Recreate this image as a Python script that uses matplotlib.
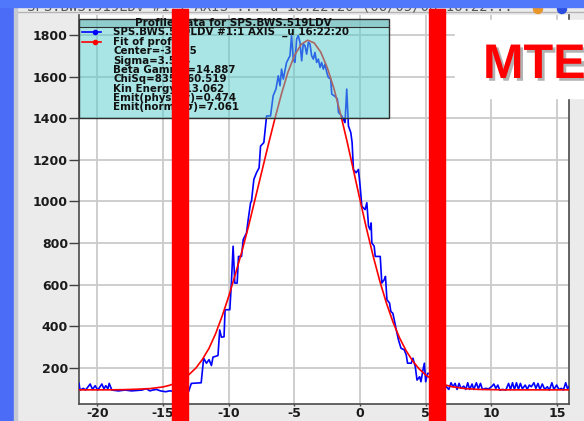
import matplotlib
matplotlib.use('Agg')
import matplotlib.pyplot as plt
import matplotlib.patheffects as pe
from matplotlib.patches import Rectangle, Ellipse
from matplotlib.lines import Line2D

prof_x = [-21.4, -21.32, -21.07, -20.9, -20.55, -20.37, -20.17, -19.97, -19.66, -19.5,
          -19.36, -19.2, -19.1, -18.9, -18.4, -17.9, -17.4, -16.6, -16.3, -16.0,
          -15.8, -15.5, -15.2, -14.8, -14.5, -14.0, -13.5, -13.05, -12.85, -12.1,
          -11.91, -11.7, -11.5, -11.32, -11.2, -10.82, -10.69, -10.56, -10.36, -10.28,
          -9.92, -9.8, -9.67, -9.54, -9.36, -9.26, -9.03, -8.9, -8.65, -8.52, -8.34,
          -8.27, -8.09, -7.89, -7.69, -7.58, -7.33, -7.12, -6.82, -6.62, -6.41,
          -6.23, -6.1, -5.98, -5.85, -5.6, -5.34, -5.22, -5.09, -4.96, -4.83,
          -4.71, -4.58, -4.45, -4.33, -4.2, -4.07, -3.94, -3.82, -3.69, -3.56,
          -3.44, -3.31, -3.18, -3.05, -2.93, -2.8, -2.67, -2.54, -2.42, -2.24,
          -2.16, -1.98, -1.83, -1.73, -1.65, -1.4, -1.27, -1.15, -1.02, -0.89,
          -0.71, -0.61, -0.51, -0.31, -0.13, 0.0, 0.13, 0.38, 0.51, 0.64,
          0.76, 0.84, 0.89, 1.07, 1.15, 1.53, 1.65, 1.83, 1.93, 2.04,
          2.24, 2.34, 2.49, 2.6, 2.75, 2.92, 3.11, 3.36, 3.51, 3.61,
          3.89, 4.02, 4.2, 4.33, 4.53, 4.63, 4.78, 4.89, 4.99, 5.14,
          5.27, 5.6, 6.0, 6.3,
          6.56, 6.75, 6.92, 7.07, 7.23, 7.38, 7.53, 7.68, 7.89, 8.04,
          8.19, 8.34, 8.52, 8.65, 8.85, 9.0, 9.16, 9.31, 9.54, 9.8,
          10.05, 10.18, 10.33, 10.48, 10.63, 10.84, 11.09, 11.3, 11.45, 11.6,
          11.75, 11.9, 12.05, 12.2, 12.35, 12.57, 12.72, 12.88, 13.03, 13.23,
          13.38, 13.54, 13.69, 13.87, 14.05, 14.25, 14.4, 14.6, 14.75, 14.96,
          15.13, 15.32, 15.47, 15.65, 15.78, 15.9]
prof_y = [126, 94, 102, 94, 123, 97, 115, 94, 123, 100,
          115, 100, 126, 94, 90, 94, 90, 94, 101, 90,
          94, 97, 90, 86, 90, 88, 90, 88, 126, 129,
          247, 223, 240, 212, 252, 260, 383, 348, 350, 480,
          480, 608, 785, 608, 608, 736, 736, 817, 849, 913, 994,
          1001, 1106, 1138, 1162, 1266, 1283, 1411, 1411, 1508, 1540,
          1604, 1556, 1636, 1588, 1668, 1700, 1797, 1684, 1668, 1781,
          1797, 1765, 1676, 1757, 1749, 1708, 1765, 1757, 1700, 1684,
          1716, 1668, 1684, 1644, 1668, 1636, 1660, 1620, 1596, 1588,
          1516, 1508, 1500, 1492, 1428, 1411, 1395, 1379, 1540, 1363,
          1331, 1283, 1154, 1138, 1154, 1074, 977, 961, 994, 881,
          865, 897, 801, 785, 736, 736, 608, 624, 640, 528,
          512, 471, 463, 431, 383, 335, 295, 287, 263, 223,
          223, 247, 206, 142, 158, 134, 190, 223, 134, 174,
          174, 125, 118, 112,
          110, 97, 129, 110, 126, 97, 126, 102, 113, 97,
          129, 97, 123, 97, 129, 100, 126, 97, 102, 100,
          113, 123, 102, 118, 94, 97, 94, 126, 97, 129,
          97, 129, 97, 126, 100, 118, 97, 118, 110, 129,
          102, 126, 97, 123, 97, 110, 94, 129, 97, 118,
          97, 102, 94, 129, 102, 110]

# gaussian fit curve as drawn
fit_x = [-21.4, -20, -19, -18, -17, -16, -15, -14.5, -14, -13.5, -13, -12.5, -12,
         -11.5, -11, -10.5, -10, -9.5, -9, -8.5, -8, -7.5, -7, -6.5, -6, -5.5,
         -5, -4.5, -4, -3.5, -3, -2.5, -2, -1.5, -1, -0.5, 0, 0.5, 1, 1.5, 2,
         2.5, 3, 3.5, 4, 4.5, 5, 5.5, 6, 6.5, 7, 8, 9, 10, 11, 12, 13, 14, 15, 15.9]
fit_y = [95, 95, 95, 96, 98, 101, 109, 117, 128, 146, 170, 200, 242,
         295, 365, 450, 545, 650, 760, 880, 1010, 1140, 1270, 1395, 1514, 1620,
         1701, 1754, 1775, 1762, 1718, 1643, 1544, 1423, 1290, 1148, 1005, 866, 736, 617, 512,
         421, 345, 283, 234, 195, 166, 145, 129, 118, 110, 101, 97, 96, 95, 95, 95, 95, 95, 95]

x_ticks = [-20, -15, -10, -5, 0, 5, 10, 15]
y_ticks = [200, 400, 600, 800, 1000, 1200, 1400, 1600, 1800]

series_label = "SPS.BWS.519LDV #1:1 AXIS  _u 16:22:20"
fit_label = "Fit of profile"
info_lines = ["Center=-3.935", "Sigma=3.554", "Beta Gamma=14.887",
              "ChiSq=835,960.519", "Kin Energy=13.062",
              "Emit(phys 1\u03c3)=0.474", "Emit(norm 1\u03c3)=7.061"]
box_title = "Profile Data for SPS.BWS.519LDV"
window_title = "SPS.BWS.519LDV #1:1 AXIS ... u 16:22:20 (06/05/08 16:22..."

W, H = 584, 421


def fx(px):
    return px / W


def fy(py):
    return 1 - py / H


fig = plt.figure(figsize=(5.84, 4.21), dpi=100, facecolor='#ebebeb')

##########################################################
## plot area
##########################################################
ax = fig.add_axes([fx(79), fy(404), (569 - 79) / W, (404 - 15) / H])
ax.set_facecolor('white')
ax.plot(prof_x, prof_y, color='#0000ff', lw=1.2, zorder=3)
ax.plot(fit_x, fit_y, color='#ff0000', lw=1.2, zorder=4)
ax.set_xlim(-21.4, 15.9)
ax.set_ylim(27, 1896)
ax.set_xticks(x_ticks)
ax.set_yticks(y_ticks)
ax.set_xticklabels([str(t) for t in x_ticks])
ax.grid(True, color='#cacaca', lw=1.3)
ax.set_axisbelow(True)
for s in ['left', 'bottom', 'right']:
    ax.spines[s].set_color('#4a4a4a')
    ax.spines[s].set_linewidth(1.2)
ax.spines['top'].set_visible(False)
ax.tick_params(axis='y', direction='out', length=7, width=1, color='#404040', pad=1)
ax.tick_params(axis='x', direction='out', length=1.5, width=1, color='#404040', pad=0.5)
for lab in ax.get_xticklabels() + ax.get_yticklabels():
    lab.set_fontsize(9)
    lab.set_fontweight('bold')
    lab.set_color('#1a1a1a')

##########################################################
## window frame
##########################################################
fig.add_artist(Rectangle((0, 0), fx(14), 1, transform=fig.transFigure,
                         color='#4b6cf6', zorder=5))
fig.add_artist(Rectangle((fx(14), 0), fx(3), 1, transform=fig.transFigure,
                         color='#c4c9d3', zorder=5))
fig.add_artist(Line2D([fx(17), 1], [fy(12), fy(12)], transform=fig.transFigure,
                      color='#b4b4b4', lw=1, zorder=2))
fig.text(fx(27), fy(11), window_title, fontsize=10, family='DejaVu Sans Mono',
         color='#555555', va='baseline', zorder=4)
fig.add_artist(Ellipse((fx(538), fy(9)), fx(9), 9 / H, transform=fig.transFigure,
                       color='#e8962c', zorder=4))
fig.add_artist(Ellipse((fx(562), fy(9)), fx(9), 9 / H, transform=fig.transFigure,
                       color='#2c4fe0', zorder=4))
fig.add_artist(Rectangle((0, fy(7)), 1, 7 / H, transform=fig.transFigure,
                         color='#5078fb', zorder=6))

##########################################################
## legend / fit results box
##########################################################
fig.add_artist(Rectangle((fx(79), fy(118)), fx(389 - 79), (118 - 19) / H,
                         transform=fig.transFigure, facecolor='#55cccc',
                         alpha=0.5, edgecolor='none', zorder=2))
fig.add_artist(Rectangle((fx(79), fy(27)), fx(389 - 79), 8 / H,
                         transform=fig.transFigure, facecolor='#7fbdbd',
                         alpha=0.6, edgecolor='none', zorder=2))
fig.add_artist(Rectangle((fx(79), fy(118)), fx(389 - 79), (118 - 19) / H,
                         transform=fig.transFigure, facecolor='none',
                         edgecolor='#303030', lw=1, zorder=3))
fig.add_artist(Line2D([fx(79), fx(389)], [fy(27), fy(27)], transform=fig.transFigure,
                      color='#303030', lw=0.8, zorder=3))
fig.text(fx(233), fy(23), box_title, fontsize=7.5, fontweight='bold',
         ha='center', va='center', color='#111111', zorder=4)

for py, col, lab in [(32.3, '#0000ff', series_label), (42.3, '#ff0000', fit_label)]:
    fig.add_artist(Line2D([fx(82), fx(101)], [fy(py), fy(py)], transform=fig.transFigure,
                          color=col, lw=1.2, zorder=4))
    fig.add_artist(Line2D([fx(95)], [fy(py)], transform=fig.transFigure, color=col,
                          marker='o', ms=3, zorder=4))
    fig.text(fx(113), fy(py), lab, fontsize=7.4, fontweight='bold',
             va='center', color='#111111', zorder=4)

for i, line in enumerate(info_lines):
    fig.text(fx(113), fy(51.3 + i * 9.35), line, fontsize=7.4, fontweight='bold',
             va='center', color='#111111', zorder=4)

##########################################################
## annotations pasted on the screenshot
##########################################################
fig.add_artist(Rectangle((fx(455), fy(98)), fx(584 - 455), (98 - 20) / H,
                         transform=fig.transFigure, color='white', zorder=2))
fig.text(fx(483), fy(78), "MTE", fontsize=35, fontweight='bold',
         family='Liberation Sans', color='#ff0000', va='baseline', zorder=4,
         path_effects=[pe.withSimplePatchShadow(offset=(2, -2), shadow_rgbFace='#808080',
                                                alpha=0.6)])

for left in [172, 429]:
    fig.add_artist(Rectangle((fx(left), 0), fx(16), fy(9), transform=fig.transFigure,
                             color='#ff0000', zorder=7))

fig.savefig('out.png', dpi=100, facecolor=fig.get_facecolor())
